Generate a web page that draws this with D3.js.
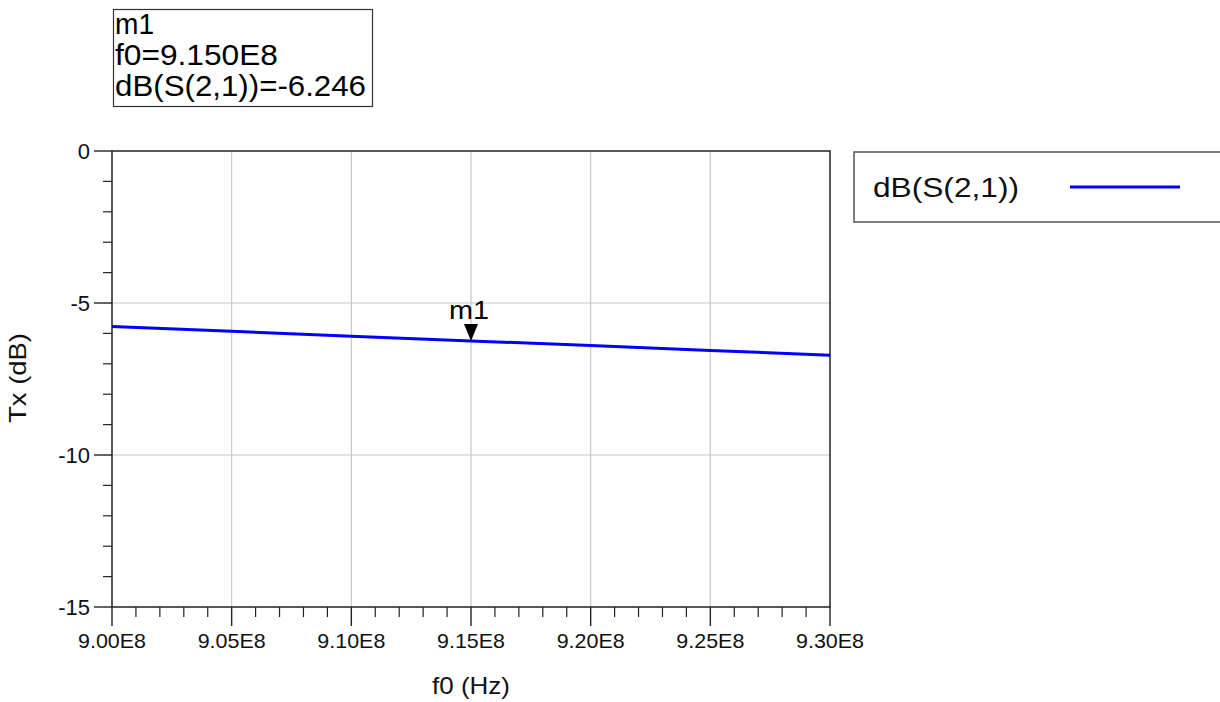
<!DOCTYPE html>
<html>
<head>
<meta charset="utf-8">
<script src="https://cdn.jsdelivr.net/npm/d3@7"></script>
<style>
  html, body { margin: 0; padding: 0; background: #fff; }
  svg { display: block; font-family: "Liberation Sans", Arial, sans-serif; }
</style>
</head>
<body>
<svg id="chart" width="1220" height="702"></svg>
<script>
// ---- data ----
const freqs = [9.00e8, 9.05e8, 9.10e8, 9.15e8, 9.20e8, 9.25e8, 9.30e8];
const s21dB = [-5.77, -5.93, -6.09, -6.246, -6.40, -6.56, -6.72];
const xTickValues = [9.00e8, 9.05e8, 9.10e8, 9.15e8, 9.20e8, 9.25e8, 9.30e8];
const xTickLabels = ["9.00E8", "9.05E8", "9.10E8", "9.15E8", "9.20E8", "9.25E8", "9.30E8"];
const yTickValues = [0, -5, -10, -15];
const yTickLabels = ["0", "-5", "-10", "-15"];
const seriesName = "dB(S(2,1))";
const markerName = "m1";
const markerFreq = 9.15e8;
const markerValue = -6.246;
const markerLines = ["m1", "f0=9.150E8", "dB(S(2,1))=-6.246"];
const xTitle = "f0 (Hz)";
const yTitle = "Tx (dB)";

// ---- layout ----
const svg = d3.select("#chart");
const L = 112, R = 830, T = 151, B = 607;
const x = d3.scaleLinear().domain([9.00e8, 9.30e8]).range([L, R]);
const y = d3.scaleLinear().domain([-15, 0]).range([B, T]);
const frameColor = "#222";
const gridColor = "#c8c8c8";

// grid
svg.append("g").selectAll("line.vg")
  .data(xTickValues.slice(1, -1)).join("line")
  .attr("x1", d => x(d)).attr("x2", d => x(d))
  .attr("y1", T).attr("y2", B)
  .attr("stroke", gridColor).attr("stroke-width", 1.2);
svg.append("g").selectAll("line.hg")
  .data(yTickValues.slice(1, -1)).join("line")
  .attr("x1", L).attr("x2", R)
  .attr("y1", d => y(d)).attr("y2", d => y(d))
  .attr("stroke", gridColor).attr("stroke-width", 1.2);

// minor ticks
const xMinor = d3.range(0, 31).map(i => 9.00e8 + i * 1e6).filter((d, i) => i % 5 !== 0);
svg.append("g").selectAll("line")
  .data(xMinor).join("line")
  .attr("x1", d => x(d)).attr("x2", d => x(d))
  .attr("y1", B).attr("y2", B + 10)
  .attr("stroke", frameColor).attr("stroke-width", 1.2);
const yMinor = d3.range(0, 16).map(i => -i).filter(d => d % 5 !== 0);
svg.append("g").selectAll("line")
  .data(yMinor).join("line")
  .attr("x1", L - 9).attr("x2", L)
  .attr("y1", d => y(d)).attr("y2", d => y(d))
  .attr("stroke", frameColor).attr("stroke-width", 1.2);

// major ticks
svg.append("g").selectAll("line")
  .data(xTickValues).join("line")
  .attr("x1", d => x(d)).attr("x2", d => x(d))
  .attr("y1", B).attr("y2", B + 19)
  .attr("stroke", frameColor).attr("stroke-width", 1.4);
svg.append("g").selectAll("line")
  .data(yTickValues).join("line")
  .attr("x1", L - 18).attr("x2", L)
  .attr("y1", d => y(d)).attr("y2", d => y(d))
  .attr("stroke", frameColor).attr("stroke-width", 1.4);

// frame
svg.append("rect")
  .attr("x", L).attr("y", T).attr("width", R - L).attr("height", B - T)
  .attr("fill", "none").attr("stroke", frameColor).attr("stroke-width", 1.5);

// tick labels
svg.append("g").selectAll("text")
  .data(xTickValues).join("text")
  .attr("x", d => x(d)).attr("y", B + 41)
  .attr("text-anchor", "middle")
  .attr("font-size", 21).attr("fill", "#111")
  .attr("textLength", 68).attr("lengthAdjust", "spacingAndGlyphs")
  .text((d, i) => xTickLabels[i]);
svg.append("g").selectAll("text")
  .data(yTickValues).join("text")
  .attr("x", L - 22).attr("y", d => y(d) + 8)
  .attr("text-anchor", "end")
  .attr("font-size", 22).attr("fill", "#111")
  .text((d, i) => yTickLabels[i]);

// axis titles
svg.append("text")
  .attr("x", 432).attr("y", 694)
  .attr("font-size", 24).attr("fill", "#111")
  .attr("textLength", 78).attr("lengthAdjust", "spacingAndGlyphs")
  .text(xTitle);
svg.append("text")
  .attr("transform", "translate(26,423) rotate(-90)")
  .attr("x", 0).attr("y", 0)
  .attr("font-size", 24).attr("fill", "#111")
  .attr("textLength", 90).attr("lengthAdjust", "spacingAndGlyphs")
  .text(yTitle);

// series line
const line = d3.line().x((d, i) => x(freqs[i])).y(d => y(d));
svg.append("path")
  .datum(s21dB)
  .attr("d", line)
  .attr("fill", "none").attr("stroke", "#0000ff").attr("stroke-width", 3);

// marker
const mx = x(markerFreq), my = y(markerValue);
svg.append("path")
  .attr("d", `M${mx - 7},${my - 17} L${mx + 7},${my - 17} L${mx},${my} Z`)
  .attr("fill", "#000");
svg.append("text")
  .attr("x", mx - 22).attr("y", my - 22)
  .attr("font-size", 26).attr("fill", "#000")
  .attr("textLength", 40).attr("lengthAdjust", "spacingAndGlyphs")
  .text(markerName);

// marker readout box
svg.append("rect")
  .attr("x", 113.5).attr("y", 9.5).attr("width", 259).attr("height", 97)
  .attr("fill", "#fff").attr("stroke", "#333").attr("stroke-width", 1.2);
const mlLengths = [39, 163, 251];
svg.append("g").selectAll("text")
  .data(markerLines).join("text")
  .attr("x", 115).attr("y", (d, i) => 34 + i * 31)
  .attr("font-size", 30).attr("fill", "#000")
  .attr("textLength", (d, i) => mlLengths[i]).attr("lengthAdjust", "spacingAndGlyphs")
  .text(d => d);

// legend
svg.append("rect")
  .attr("x", 854).attr("y", 152).attr("width", 380).attr("height", 70)
  .attr("fill", "#fff").attr("stroke", "#555").attr("stroke-width", 1.5);
svg.append("text")
  .attr("x", 873).attr("y", 197)
  .attr("font-size", 28).attr("fill", "#111")
  .attr("textLength", 146).attr("lengthAdjust", "spacingAndGlyphs")
  .text(seriesName);
svg.append("line")
  .attr("x1", 1070).attr("x2", 1180).attr("y1", 187).attr("y2", 187)
  .attr("stroke", "#0000ff").attr("stroke-width", 3);
</script>
</body>
</html>
